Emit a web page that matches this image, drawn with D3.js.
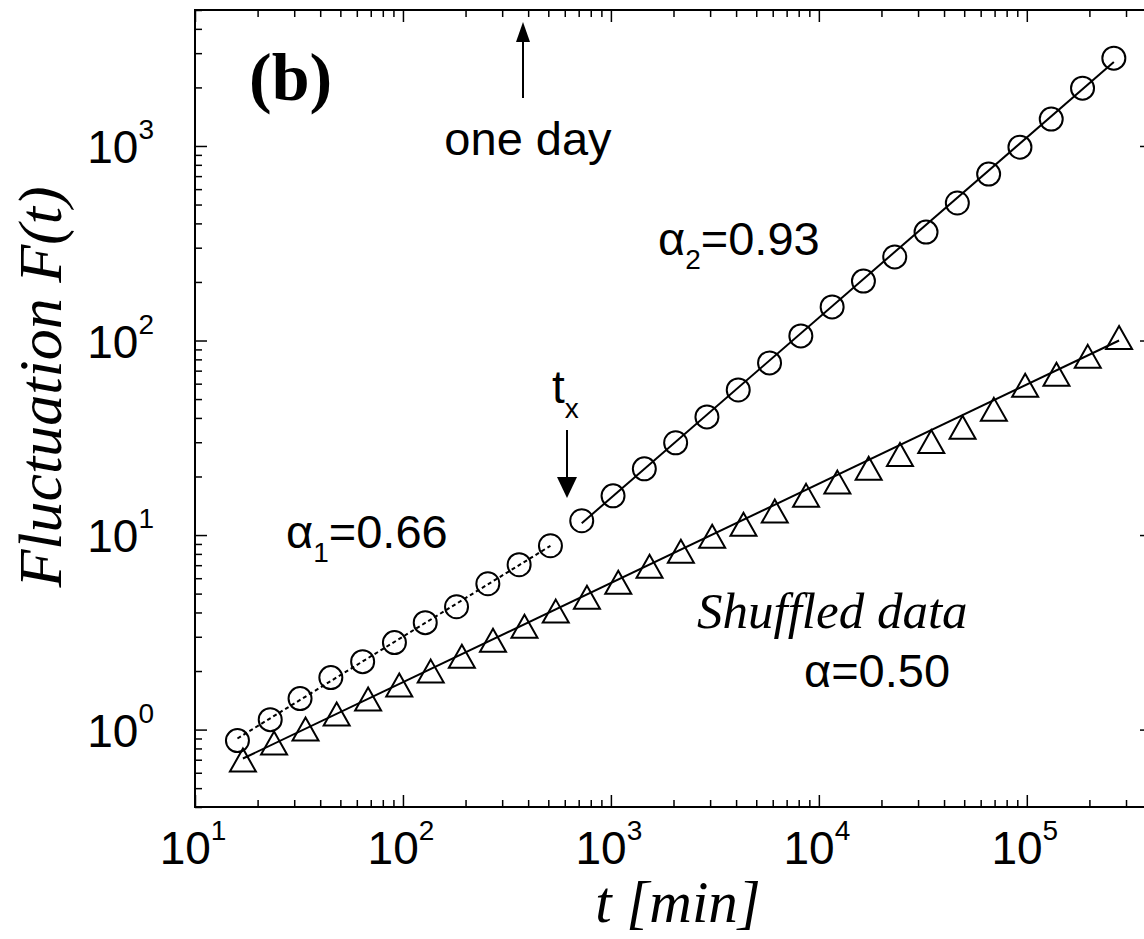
<!DOCTYPE html>
<html>
<head>
<meta charset="utf-8">
<script src="https://cdn.jsdelivr.net/npm/d3@7"></script>
<style>
  body { margin: 0; background: #fff; }
  .sans { font-family: "Liberation Sans", Arial, sans-serif; }
  .serif { font-family: "Liberation Serif", "Times New Roman", serif; }
</style>
</head>
<body>
<script>
// fluctuation F(t) of the original series (circles)
var tCircle = [16, 23, 32, 45, 64, 91, 128, 181, 256, 362, 512, 724, 1024, 1448, 2048, 2896,
               4096, 5793, 8192, 11585, 16384, 23170, 32768, 46341, 65536, 92682, 131072, 185364, 262144];
var fCircle = [0.878, 1.125, 1.443, 1.85, 2.234, 2.80, 3.545, 4.28, 5.62, 7.04, 8.81, 11.84, 15.9, 21.9,
               29.8, 40.5, 55.7, 76.7, 105.6, 148.8, 202, 269, 361, 509, 717, 986, 1375, 1983, 2827];

// shuffled data (triangles)
var tTriangle = [17, 24, 34, 48, 68, 96, 136, 192, 271, 384, 543, 767, 1085, 1534, 2170, 3069,
                 4340, 6138, 8680, 12276, 17360, 24551, 34721, 49103, 69443, 98207, 138886, 196415, 277772];
var fTriangle = [0.693, 0.847, 1.0, 1.194, 1.426, 1.683, 1.986, 2.37, 2.865, 3.38, 4.04, 4.76, 5.69, 6.87,
                 8.2, 9.8, 11.3, 13.2, 15.9, 18.6, 21.9, 25.8, 30.1, 35.6, 44, 58.5, 66.6, 82.4, 103];

// fitted power laws (end points)
var fit1T = [16, 512],     fit1F = [0.9, 8.8];      // alpha1 = 0.66, dotted
var fit2T = [724, 262144], fit2F = [11.5, 2700];    // alpha2 = 0.93
var fit3T = [17, 277772],  fit3F = [0.71, 100];     // shuffled alpha = 0.50

var xTickExp = [1, 2, 3, 4, 5];
var yTickExp = [0, 1, 2, 3];

var svg = d3.select("body").append("svg")
    .attr("width", 1144)
    .attr("height", 939);

var pLeft = 195, pTop = 10, pRight = 1152, pBottom = 807;

var x = d3.scaleLog().domain([10, 4e5]).range([pLeft, pRight]);
var y = d3.scaleLog().domain([0.4, 5000]).range([pBottom, pTop]);

var isPow = function(v) { return Math.abs(Math.log10(v) - Math.round(Math.log10(v))) < 1e-9; };
var xMinor = x.ticks().filter(function(v) { return !isPow(v); });
var yMinor = y.ticks().filter(function(v) { return !isPow(v); });
var xMajor = xTickExp.map(function(e) { return Math.pow(10, e); });
var yMajor = yTickExp.map(function(e) { return Math.pow(10, e); });

// ticks, all pointing inside
function ticks(axis, vals, size, tr) {
  var g = svg.append("g").attr("transform", tr)
    .call(axis.tickValues(vals).tickSize(size).tickFormat(""));
  g.select(".domain").remove();
  g.selectAll("line").attr("stroke", "#000").attr("stroke-width", 1.5);
}
ticks(d3.axisTop(x), xMinor, 7, "translate(0," + pBottom + ")");
ticks(d3.axisTop(x), xMajor, 12, "translate(0," + pBottom + ")");
ticks(d3.axisBottom(x), xMinor, 7, "translate(0," + pTop + ")");
ticks(d3.axisBottom(x), xMajor, 12, "translate(0," + pTop + ")");
ticks(d3.axisRight(y), yMinor, 7, "translate(" + pLeft + ",0)");
ticks(d3.axisRight(y), yMajor, 12, "translate(" + pLeft + ",0)");
ticks(d3.axisLeft(y), yMinor, 7, "translate(" + pRight + ",0)");
ticks(d3.axisLeft(y), yMajor, 12, "translate(" + pRight + ",0)");

svg.append("rect")
  .attr("x", pLeft).attr("y", pTop)
  .attr("width", pRight - pLeft).attr("height", pBottom - pTop)
  .attr("fill", "none").attr("stroke", "#000").attr("stroke-width", 2);

// tick labels 10^n
xTickExp.forEach(function(e) {
  var t = svg.append("text").attr("class", "sans")
    .attr("x", x(Math.pow(10, e)) - 2).attr("y", 864)
    .attr("text-anchor", "middle").attr("font-size", 46);
  t.append("tspan").text("10");
  t.append("tspan").attr("dy", -24).attr("font-size", 28).text(e);
});
yTickExp.forEach(function(e) {
  var t = svg.append("text").attr("class", "sans")
    .attr("x", 154).attr("y", y(Math.pow(10, e)) + 17)
    .attr("text-anchor", "end").attr("font-size", 46);
  t.append("tspan").text("10");
  t.append("tspan").attr("dy", -24).attr("font-size", 28).text(e);
});

// axis titles
svg.append("text").attr("class", "serif")
  .attr("x", 678).attr("y", 922)
  .attr("text-anchor", "middle").attr("font-size", 59).attr("font-style", "italic")
  .text("t [min]");
svg.append("text").attr("class", "serif")
  .attr("transform", "translate(61,387) rotate(-90)")
  .attr("text-anchor", "middle").attr("font-size", 62).attr("font-style", "italic")
  .text("Fluctuation F(t)");

// fit lines
var line = d3.line()
  .x(function(d) { return x(d[0]); })
  .y(function(d) { return y(d[1]); });
var fits = [[fit1T, fit1F, "4,3"], [fit2T, fit2F, null], [fit3T, fit3F, null]];
fits.forEach(function(f) {
  svg.append("path")
    .datum(d3.zip(f[0], f[1]))
    .attr("d", line)
    .attr("fill", "none").attr("stroke", "#000").attr("stroke-width", 2)
    .attr("stroke-dasharray", f[2]);
});

// markers
svg.append("g").selectAll("circle")
  .data(d3.zip(tCircle, fCircle))
  .enter().append("circle")
  .attr("cx", function(d) { return x(d[0]); })
  .attr("cy", function(d) { return y(d[1]); })
  .attr("r", 11.5)
  .attr("fill", "none").attr("stroke", "#000").attr("stroke-width", 2);

svg.append("g").selectAll("path")
  .data(d3.zip(tTriangle, fTriangle))
  .enter().append("path")
  .attr("transform", function(d) { return "translate(" + x(d[0]) + "," + y(d[1]) + ")"; })
  .attr("d", "M0,-12L13,11L-13,11Z")
  .attr("fill", "none").attr("stroke", "#000").attr("stroke-width", 2)
  .attr("stroke-linejoin", "miter");

// annotations
svg.append("text").attr("class", "serif")
  .attr("x", 249).attr("y", 100)
  .attr("font-size", 68).attr("font-weight", "bold")
  .text("(b)");

svg.append("line")
  .attr("x1", 523).attr("x2", 523).attr("y1", 98).attr("y2", 38)
  .attr("stroke", "#000").attr("stroke-width", 2);
svg.append("path")
  .attr("d", "M523,22L530,42L516,42Z").attr("fill", "#000");
svg.append("text").attr("class", "sans")
  .attr("x", 528).attr("y", 155)
  .attr("text-anchor", "middle").attr("font-size", 47)
  .text("one day");

var tx = svg.append("text").attr("class", "sans")
  .attr("x", 552).attr("y", 403).attr("font-size", 46);
tx.append("tspan").text("t");
tx.append("tspan").attr("dy", 15).attr("font-size", 28).text("x");

svg.append("line")
  .attr("x1", 567).attr("x2", 567).attr("y1", 430).attr("y2", 482)
  .attr("stroke", "#000").attr("stroke-width", 2);
svg.append("path")
  .attr("d", "M567,498L577,477L557,477Z").attr("fill", "#000");

function alphaLabel(xp, yp, sub, val) {
  var t = svg.append("text").attr("class", "sans")
    .attr("x", xp).attr("y", yp).attr("font-size", 47);
  t.append("tspan").text("\u03b1");
  if (sub) {
    t.append("tspan").attr("dy", 14).attr("font-size", 28).text(sub);
    t.append("tspan").attr("dy", -14).text("=" + val);
  } else {
    t.append("tspan").text("=" + val);
  }
}
alphaLabel(658, 255, "2", "0.93");
alphaLabel(286, 548, "1", "0.66");
alphaLabel(804, 687, null, "0.50");

svg.append("text").attr("class", "serif")
  .attr("x", 697).attr("y", 628)
  .attr("font-size", 51).attr("font-style", "italic")
  .text("Shuffled data");
</script>
</body>
</html>
